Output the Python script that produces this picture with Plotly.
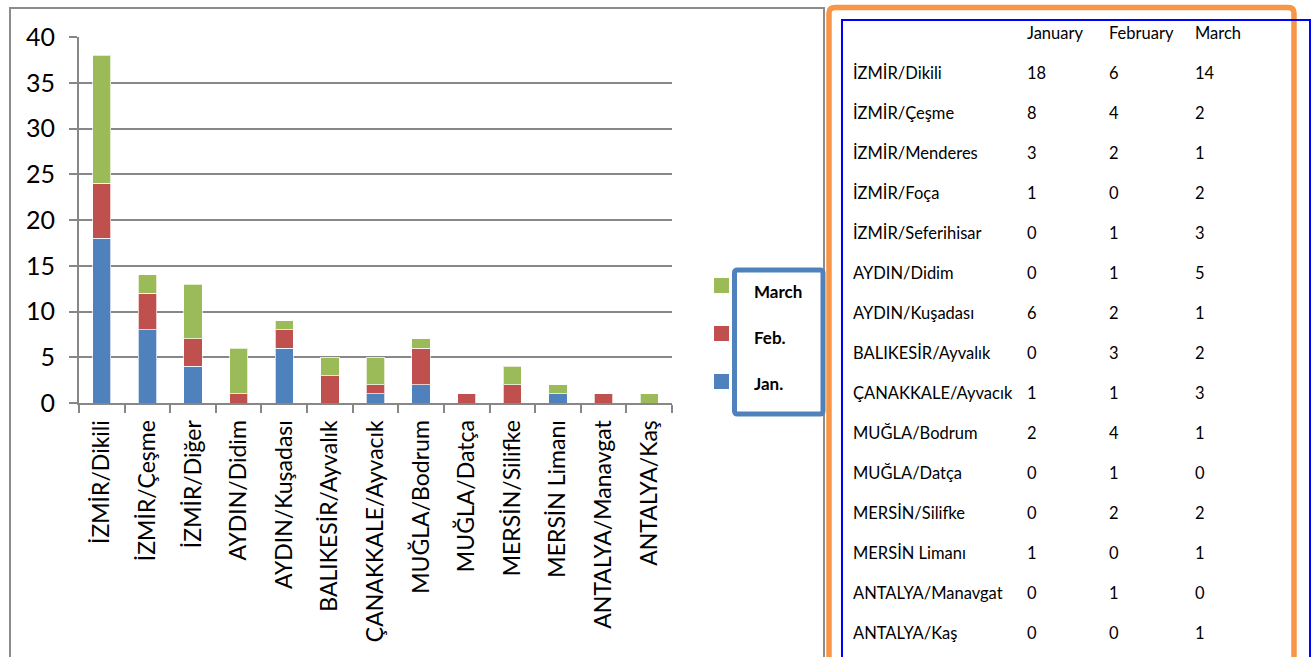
import plotly.graph_objects as go

# ---- chart data ----
categories = ["İZMİR/Dikili", "İZMİR/Çeşme", "İZMİR/Diğer", "AYDIN/Didim", "AYDIN/Kuşadası",
              "BALIKESİR/Ayvalık", "ÇANAKKALE/Ayvacık", "MUĞLA/Bodrum", "MUĞLA/Datça",
              "MERSİN/Silifke", "MERSİN Limanı", "ANTALYA/Manavgat", "ANTALYA/Kaş"]
jan = [18, 8, 4, 0, 6, 0, 1, 2, 0, 0, 1, 0, 0]
feb = [6, 4, 3, 1, 2, 3, 1, 4, 1, 2, 0, 1, 0]
mar = [14, 2, 6, 5, 1, 2, 3, 1, 0, 2, 1, 0, 1]
series_names = ["Jan.", "Feb.", "March"]
y_ticks = [0, 5, 10, 15, 20, 25, 30, 35, 40]

# ---- table data ----
table_header = ["January", "February", "March"]
table_rows = ["İZMİR/Dikili", "İZMİR/Çeşme", "İZMİR/Menderes", "İZMİR/Foça", "İZMİR/Seferihisar",
              "AYDIN/Didim", "AYDIN/Kuşadası", "BALIKESİR/Ayvalık", "ÇANAKKALE/Ayvacık",
              "MUĞLA/Bodrum", "MUĞLA/Datça", "MERSİN/Silifke", "MERSİN Limanı",
              "ANTALYA/Manavgat", "ANTALYA/Kaş"]
table_jan = [18, 8, 3, 1, 0, 0, 6, 0, 1, 2, 0, 0, 1, 0, 0]
table_feb = [6, 4, 2, 0, 1, 1, 2, 3, 1, 4, 1, 2, 0, 1, 0]
table_mar = [14, 2, 1, 2, 3, 5, 1, 2, 3, 1, 0, 2, 1, 0, 1]

colors = {"Jan.": "#4F81BD", "Feb.": "#C0504D", "March": "#9BBB59"}
FONT = "Lato"
GRAY = "#878787"

W, H = 1312, 657
PL, PR, PT, PB = 79, 672, 37, 403


def px(x):
    return (x - PL) / (PR - PL)


def py(y):
    return (PB - y) / (PB - PT)


def path(points, closed=False):
    s = ""
    for cmd, pts in points:
        s += cmd + " " + " ".join(f"{px(a):.5f},{py(b):.5f}" for a, b in pts) + " "
    if closed:
        s += "Z"
    return s.strip()


fig = go.Figure()
for name, vals in zip(series_names, [jan, feb, mar]):
    fig.add_trace(go.Bar(
        x=categories, y=vals, name=name,
        marker=dict(color=colors[name], line=dict(color="rgba(255,255,255,0.7)", width=1)),
        showlegend=False,
    ))

shapes = []
# chart frame (gray)
shapes.append(dict(type="path", xref="paper", yref="paper",
                   path=path([("M", [(10, 720)]), ("L", [(10, 8)]), ("L", [(824, 8)]), ("L", [(824, 720)])]),
                   line=dict(color="#8C8C8C", width=2)))
# orange rounded border
shapes.append(dict(type="path", xref="paper", yref="paper",
                   path=path([("M", [(829, 720)]), ("L", [(829, 13)]), ("Q", [(829, 7.5), (835, 7.5)]),
                              ("L", [(1288, 7.5)]), ("Q", [(1294, 7.5), (1294, 13)]), ("L", [(1294, 720)])]),
                   line=dict(color="#F79646", width=5.5)))
# blue table border
shapes.append(dict(type="path", xref="paper", yref="paper",
                   path=path([("M", [(842, 720)]), ("L", [(842, 20)]), ("L", [(1310, 20)]), ("L", [(1310, 720)])]),
                   line=dict(color="#0000FF", width=2)))
# legend box
shapes.append(dict(type="path", xref="paper", yref="paper",
                   path=path([("M", [(734.5, 273)]), ("Q", [(734.5, 270), (737.5, 270)]), ("L", [(820, 270)]),
                              ("Q", [(823, 270), (823, 273)]), ("L", [(823, 411)]), ("Q", [(823, 414), (820, 414)]),
                              ("L", [(737.5, 414)]), ("Q", [(734.5, 414), (734.5, 411)])], closed=True),
                   line=dict(color="#4F81BD", width=5), fillcolor="white"))

annotations = []
# legend items (March top, Jan bottom)
leg_order = ["March", "Feb.", "Jan."]
for i, name in enumerate(leg_order):
    sy = 278 + 48 * i
    shapes.append(dict(type="rect", xref="paper", yref="paper",
                       x0=px(714), x1=px(729), y0=py(sy), y1=py(sy + 15),
                       fillcolor=colors[name], line=dict(width=0)))
    annotations.append(dict(xref="paper", yref="paper", x=px(752), y=py(291 + 46 * i),
                            text=f"<b>{name}</b>", showarrow=False, xanchor="left", yanchor="middle",
                            font=dict(family=FONT, size=17, color="black")))

# table
TFS = 16.5
col_x = [1025, 1107, 1193]
for j, h in enumerate(table_header):
    annotations.append(dict(xref="paper", yref="paper", x=px(col_x[j]), y=py(33), text=h,
                            showarrow=False, xanchor="left", yanchor="middle",
                            font=dict(family=FONT, size=TFS, color="black")))
for i, name in enumerate(table_rows):
    yy = 73 + 40 * i
    annotations.append(dict(xref="paper", yref="paper", x=px(851), y=py(yy), text=name,
                            showarrow=False, xanchor="left", yanchor="middle",
                            font=dict(family=FONT, size=TFS, color="black")))
    for j, v in enumerate([table_jan[i], table_feb[i], table_mar[i]]):
        annotations.append(dict(xref="paper", yref="paper", x=px(col_x[j]), y=py(yy), text=str(v),
                                showarrow=False, xanchor="left", yanchor="middle",
                                font=dict(family=FONT, size=TFS, color="black")))

fig.update_layout(
    barmode="stack", bargap=0.6,
    width=W, height=H, autosize=False,
    margin=dict(l=PL, r=W - PR, t=PT, b=H - PB, pad=0),
    paper_bgcolor="white", plot_bgcolor="white",
    shapes=shapes, annotations=annotations,
    xaxis=dict(type="category", showline=True, linecolor=GRAY, linewidth=2,
               ticks="outside", tickson="boundaries", ticklen=8, tickwidth=2, tickcolor=GRAY,
               tickangle=-90, tickfont=dict(family=FONT, size=23, color="black"),
               showgrid=False, ticklabelstandoff=6),
    yaxis=dict(range=[0, 40], tickvals=y_ticks, showline=True, linecolor=GRAY, linewidth=2,
               ticks="outside", ticklen=8, tickwidth=2, tickcolor=GRAY,
               showgrid=True, gridcolor=GRAY, gridwidth=2, zeroline=False,
               tickfont=dict(family=FONT, size=25, color="black"), ticklabelstandoff=9),
)

fig.write_html("out.html", config={"displayModeBar": False},
               post_script="document.body.style.margin='0';document.body.style.padding='0';"
                           "document.body.style.overflow='hidden';")
